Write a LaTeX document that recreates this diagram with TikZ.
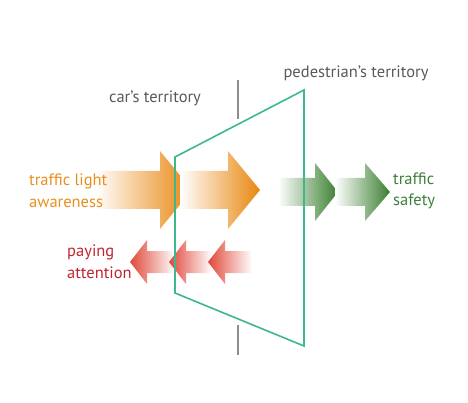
\documentclass[tikz,border=0pt]{standalone}
\usepackage{fontspec}
\setmainfont{PT Sans}
\usepackage{tikz}
\usetikzlibrary{positioning,calc}
\definecolor{tgrey}{HTML}{58595B}
\definecolor{tlgrey}{HTML}{8C8C8C}
\definecolor{torange}{HTML}{E8901E}
\definecolor{aorange}{HTML}{E8860E}
\definecolor{tgreen}{HTML}{3E7F3A}
\definecolor{agreen}{HTML}{3A7F2F}
\definecolor{tred}{HTML}{BE2430}
\definecolor{ared}{HTML}{E0483A}
\definecolor{zone}{HTML}{3DB88C}
\tikzset{
  label/.style={font=\fontsize{16.5}{21.5}\selectfont,align=left,inner sep=0pt},
  zonetext/.style={label,text=tgrey},
  orangearrow/.style={left color=white,middle color=aorange!75,right color=aorange},
  greenarrow/.style={left color=white,middle color=agreen!75,right color=agreen},
  redarrow/.style={left color=ared,middle color=ared!75,right color=white},
  zoneline/.style={draw=zone,line width=1.6pt,line join=miter},
  divider/.style={draw=tlgrey,line width=1.4pt}
}
\begin{document}
\begin{tikzpicture}[x=1pt,y=-1pt]
  \useasboundingbox (0,0) rectangle (468,403);
  \draw[divider] (238,80)--(238,119);
  \draw[divider] (238,325)--(238,355);
  \shade[orangearrow] (95,171)--(160,171)--(160,151)--(192,190)--(160,229)--(160,209)--(95,209)--cycle;
  \shade[orangearrow] (180,171)--(228,171)--(228,151)--(260,190)--(228,229)--(228,209)--(180,209)--cycle;
  \shade[greenarrow] (278,178)--(315,178)--(315,163)--(338,192)--(315,221)--(315,206)--(278,206)--cycle;
  \shade[greenarrow] (335,178)--(365,178)--(365,163)--(390,192)--(365,221)--(365,206)--(335,206)--cycle;
  \shade[redarrow] (130,262)--(147,240)--(147,251)--(175,251)--(175,273)--(147,273)--(147,284)--cycle;
  \shade[redarrow] (169,262)--(186,240)--(186,251)--(212,251)--(212,273)--(186,273)--(186,284)--cycle;
  \shade[redarrow] (208,262)--(225,240)--(225,251)--(252,251)--(252,273)--(225,273)--(225,284)--cycle;
  \coordinate (zonetl) at (175,157);
  \coordinate (zonetr) at (304,90);
  \coordinate (zonebr) at (304,346);
  \coordinate (zonebl) at (175,293);
  \draw[zoneline] (zonetl)--(zonetr)--(zonebr)--(zonebl)--cycle;
  \node[zonetext] (cartext) at (155,98) {car’s territory};
  \node[zonetext] (pedtext) at (356,73) {pedestrian’s territory};
  \node[label,text=torange,anchor=west] (awareness) at (29,191) {traffic light\\awareness};
  \node[label,text=tgreen,anchor=west] (safety) at (393,191) {traffic\\safety};
  \node[label,text=tred,anchor=west] (attention) at (67,262) {paying\\attention};
\end{tikzpicture}
\end{document}
